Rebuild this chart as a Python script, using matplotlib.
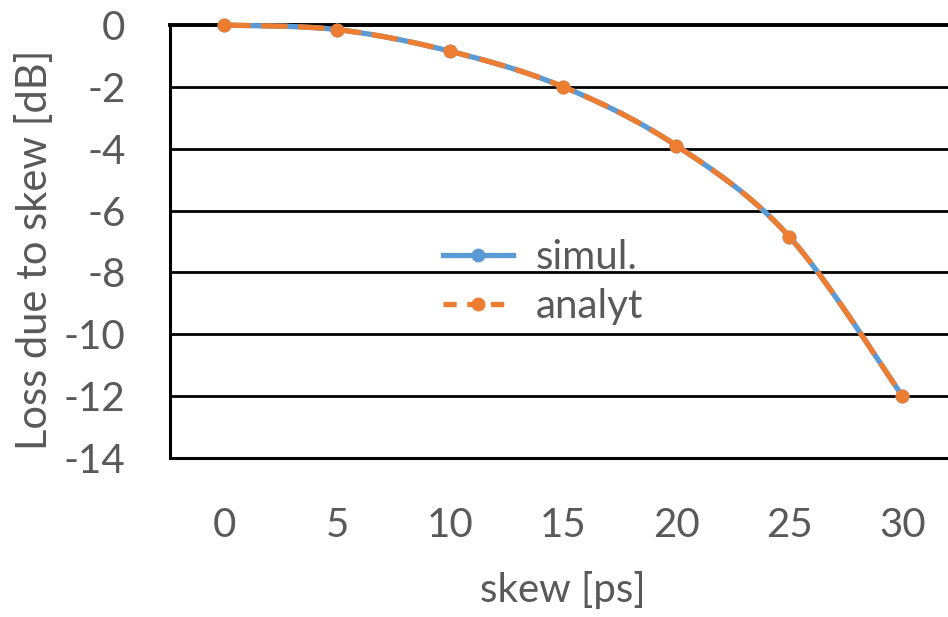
import numpy as np
import matplotlib
matplotlib.use("Agg")
import matplotlib.pyplot as plt
from matplotlib.lines import Line2D

skew = [0, 5, 10, 15, 20, 25, 30]
simul = [0.0, -0.15, -0.85, -2.0, -3.9, -6.85, -12.0]
analyt = [0.0, -0.15, -0.85, -2.0, -3.9, -6.85, -12.0]
yticks = [0, -2, -4, -6, -8, -10, -12, -14]
xticks = [0, 5, 10, 15, 20, 25, 30]

plt.rcParams['font.family'] = ['Lato', 'DejaVu Sans']
TXT = '#595959'


def smooth(x, y, n=40):
    x = np.asarray(x, float); y = np.asarray(y, float)
    px = np.concatenate([[x[0]], x, [x[-1]]])
    py = np.concatenate([[y[0]], y, [y[-1]]])
    xs, ys = [], []
    for i in range(1, len(px) - 2):
        p0 = np.array([px[i - 1], py[i - 1]]); p1 = np.array([px[i], py[i]])
        p2 = np.array([px[i + 1], py[i + 1]]); p3 = np.array([px[i + 2], py[i + 2]])
        c1 = p1 + (p2 - p0) / 6.0
        c2 = p2 - (p3 - p1) / 6.0
        t = np.linspace(0, 1, n)[:, None]
        b = (1 - t) ** 3 * p1 + 3 * (1 - t) ** 2 * t * c1 + 3 * (1 - t) * t ** 2 * c2 + t ** 3 * p2
        xs.append(b[:, 0]); ys.append(b[:, 1])
    return np.concatenate(xs), np.concatenate(ys)


fig = plt.figure(figsize=(9.48, 6.17), dpi=100)
ax = fig.add_axes([170 / 948, (617 - 458) / 617, 789 / 948, (458 - 25) / 617])
ax.set_xlim(-2.4, 32.5)
ax.set_ylim(-14, 0)

for yv in yticks[:-1]:
    ax.axhline(yv, color='black', lw=2.8 if yv == 0 else 2.0, zorder=1, clip_on=False)

blue = '#5B9BD5'
orange = '#ED7D31'
dash = (0, (5.0, 2.0))
sx, sy = smooth(skew, simul)
ax.plot(sx, sy, color=blue, lw=3.8, zorder=3, solid_capstyle='round', clip_on=False)
ax.plot(skew, simul, 'o', color=blue, ms=9, zorder=3, clip_on=False)
ax_, ay = smooth(skew, analyt)
ax.plot(ax_, ay, color=orange, lw=3.8, ls=dash, zorder=4, clip_on=False)
ax.plot(skew, analyt, 'o', color=orange, ms=9, zorder=4, clip_on=False)

for s in ['top', 'right']:
    ax.spines[s].set_visible(False)
ax.spines['left'].set_color('black'); ax.spines['left'].set_linewidth(2.2)
ax.spines['bottom'].set_color('black'); ax.spines['bottom'].set_linewidth(2.2)

ax.set_yticks(yticks)
ax.set_yticklabels([str(v) for v in yticks])
ax.set_xticks(xticks)
ax.set_xticklabels([str(v) for v in xticks])
ax.tick_params(axis='y', length=0, pad=32, labelsize=29, labelcolor=TXT)
ax.tick_params(axis='x', length=0, pad=35, labelsize=29, labelcolor=TXT)

ax.set_xlabel('skew [ps]', fontsize=29, color=TXT)
ax.xaxis.set_label_coords((563 - 170) / 789, -(590 - 458) / 433, transform=ax.transAxes)
ax.xaxis.label.set_va('center')
fig.text(35 / 948, 1 - 250 / 617, 'Loss due to skew [dB]', rotation=90, fontsize=30,
         color=TXT, ha='center', va='center')

h1 = Line2D([], [], color=blue, lw=3.8, marker='o', ms=9)
h2 = Line2D([], [], color=orange, lw=3.8, ls=(0, (2.5, 2.0)), marker='o', ms=9)
leg = ax.legend([h1, h2], ['simul.', 'analyt'], loc='center left',
                bbox_to_anchor=((443 - 170) / 789, 1 - (282 - 25) / 433),
                frameon=False, fontsize=29, handlelength=1.75, handletextpad=0.55,
                labelspacing=0.3, borderpad=0, borderaxespad=0)
for t in leg.get_texts():
    t.set_color(TXT)

fig.savefig('out.png', dpi=100)
